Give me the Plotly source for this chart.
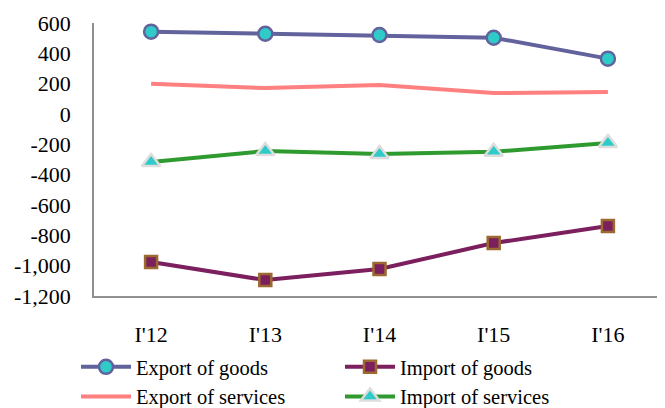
import plotly.graph_objects as go

categories = ["I'12", "I'13", "I'14", "I'15", "I'16"]
export_goods = [543, 529, 521, 503, 365]
import_goods = [-976, -1095, -1022, -851, -739]
export_services = [200, 171, 191, 138, 145]
import_services = [-317, -244, -264, -249, -191]
y_ticks = [600, 400, 200, 0, -200, -400, -600, -800, -1000, -1200]
y_labels = ["600", "400", "200", "0", "-200", "-400", "-600", "-800", "-1,000", "-1,200"]

FONT = "Liberation Serif"
W, H = 657, 400

fig = go.Figure()
fig.add_trace(go.Scatter(
    x=categories, y=export_goods, name="Export of goods", mode="lines+markers",
    line=dict(color="#62629D", width=4),
    marker=dict(symbol="circle", size=14, color="#2FCBC9", line=dict(color="#62629D", width=2.5))))
fig.add_trace(go.Scatter(
    x=categories, y=import_goods, name="Import of goods", mode="lines+markers",
    line=dict(color="#7B1F5E", width=4),
    marker=dict(symbol="square", size=12, color="#7B1F5E", line=dict(color="#9C6A30", width=2.5))))
fig.add_trace(go.Scatter(
    x=categories, y=export_services, name="Export of services", mode="lines",
    line=dict(color="#FF8080", width=4)))
fig.add_trace(go.Scatter(
    x=categories, y=import_services, name="Import of services", mode="lines+markers",
    line=dict(color="#2F9A2F", width=4),
    marker=dict(symbol="triangle-up", size=16, color="#2FCBC9", line=dict(color="#DDDDDD", width=2.5))))

fig.update_layout(
    width=W, height=H,
    margin=dict(l=86, r=0, t=15, b=112, autoexpand=False),
    paper_bgcolor="white", plot_bgcolor="white",
    font=dict(family=FONT, size=20, color="black"),
    showlegend=True,
    legend=dict(orientation="h", x=68 / W, y=1 - 339 / H, xref="container", yref="container",
                xanchor="left", yanchor="top",
                entrywidth=199, entrywidthmode="pixels", itemwidth=50,
                font=dict(family=FONT, size=20.5), tracegroupgap=0,
                bgcolor="rgba(0,0,0,0)"),
    xaxis=dict(type="category", range=[-0.5, 4.5], showgrid=False, showline=True,
               linecolor="#909090", linewidth=1.5,
               ticks="", ticklabelstandoff=18, tickfont=dict(family=FONT, size=22), zeroline=False),
    yaxis=dict(range=[-1200, 600], tickvals=y_ticks, ticktext=y_labels, showgrid=False,
               showline=True, linecolor="#909090", linewidth=1.5, ticks="",
               ticklabelstandoff=17, tickfont=dict(family=FONT, size=22), zeroline=False),
)
fig.write_html("out.html")
